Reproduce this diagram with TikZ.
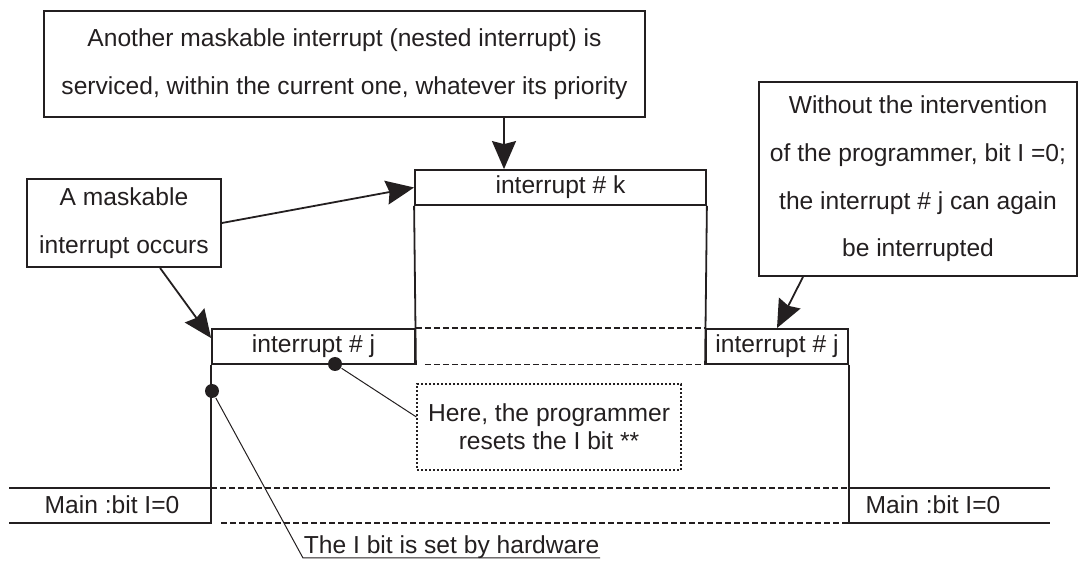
\documentclass[tikz,border=0pt]{standalone}
\usepackage{fontspec}
\setmainfont{Liberation Sans}
\usetikzlibrary{arrows.meta}
\definecolor{ink}{HTML}{231F20}
\begin{document}
\begin{tikzpicture}
      [x=0.5pt,y=-0.5pt,line width=0.9pt,color=ink,
      font=\fontsize{12.3}{23.8}\selectfont,
      every node/.style={inner sep=0pt},
      note/.style={draw,align=center},
      slot/.style={draw,minimum height=17.5pt},
      idle/.style={dash pattern=on 3pt off 1.5pt,line width=0.6pt},
      tip/.style={-{Stealth[length=14pt,width=12pt,inset=1.5pt]}},
      dot/.style={circle,fill,minimum size=7pt}]
      \useasboundingbox (0,0) rectangle (1078,561);
      \node[note,minimum width=300.5pt,minimum height=53pt] (N) at (344.5,64)
      {Another maskable interrupt (nested interrupt) is\\serviced, within the current one, whatever its priority};
      \node[note,minimum width=97pt,minimum height=44pt] (A) at (124,223)
      {A maskable\\interrupt occurs};
      \node[note,minimum width=159pt,minimum height=97pt] (W) at (918,179)
      {Without the intervention\\of the programmer, bit I =0;\\the interrupt \# j can again\\be interrupted};
      \node[note,dash pattern=on 1pt off 1pt,line width=0.6pt,minimum width=132pt,minimum height=43pt,
      font=\fontsize{12.3}{13.8}\selectfont] (H) at (549,427)
      {Here, the programmer\\resets the I bit **};
      \node[slot,minimum width=145.5pt] (K) at (560.5,187.5) {interrupt \# k};
      \node[slot,minimum width=101.5pt] (J1) at (313.5,346.5) {interrupt \# j};
      \node[slot,minimum width=71pt] (J2) at (777,346.5) {interrupt \# j};
      \node (M1) at (112,505) {Main :bit I=0};
      \node (M2) at (933,505) {Main :bit I=0};
      \node[anchor=base west] (HW) at (303,554) {The I bit is set by hardware};
      \node[dot] (D1) at (212,391) {};
      \node[dot] (D2) at (335,364) {};
      \coordinate (LT) at (9,488);
      \coordinate (LB) at (9,523);
      \coordinate (RT) at (1050,488);
      \coordinate (RB) at (1050,523);
      \draw (K.south west) -- (J1.south east);
      \draw (K.south east) -- (J2.south west);
      \draw (J1.south west) |- (LB);
      \draw (LT) -- (LT -| J1.west);
      \draw (J2.south east) |- (RB);
      \draw (RT) -- (RT -| J2.east);
      \draw[idle] (J1.north east) -- (J2.north west);
      \draw[idle] ([xshift=4.5pt]J1.south east) -- (J2.south west);
      \draw[idle] (LT -| J1.west) -- (RT -| J2.east);
      \draw[idle] ([xshift=5pt]LB -| J1.west) -- (RB -| J2.east);
      \draw[tip] ([xshift=79.75pt]N.south) -- ([xshift=-28.25pt]K.north);
      \draw[tip] (A.east) -- (K.west);
      \draw[tip] ([xshift=18pt]A.south) -- ([yshift=-5pt]J1.north west);
      \draw[tip] ([xshift=-57.5pt]W.south) -- (J2.north);
      \draw[line width=0.5pt] (D2) -- ([yshift=5pt]H.west);
      \draw[line width=0.5pt] (D1) -- ([yshift=-2pt]HW.base west) -- ([yshift=-2pt]HW.base east);
    \end{tikzpicture}
\end{document}
